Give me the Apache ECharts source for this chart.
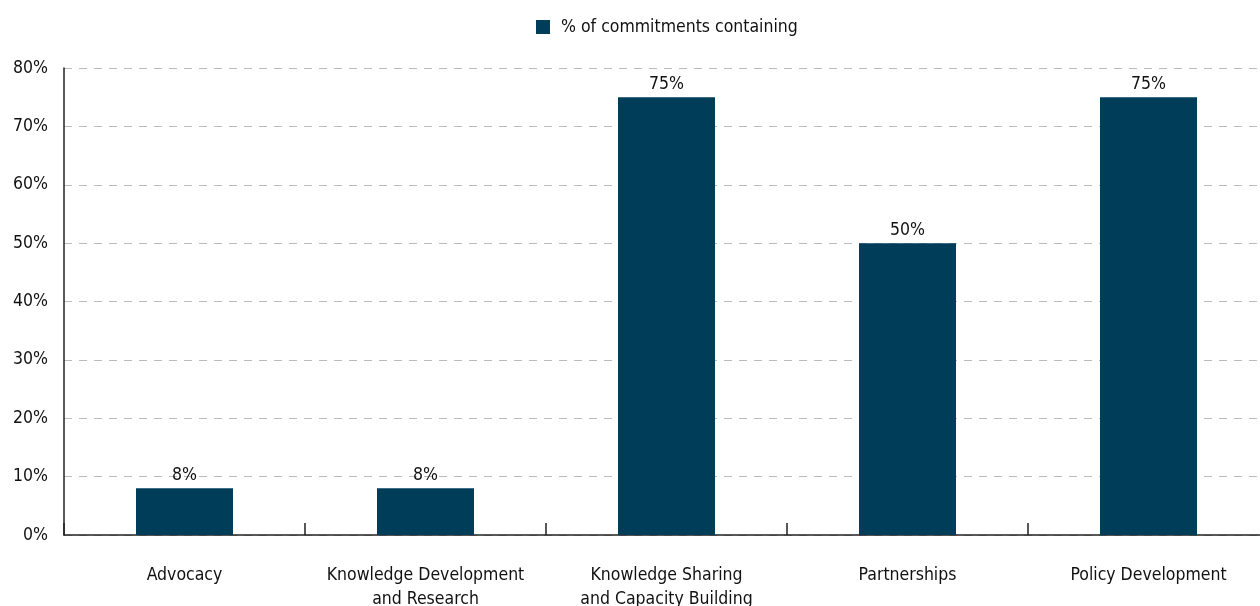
<!DOCTYPE html>
<html><head><meta charset="utf-8">
<script src="https://cdn.jsdelivr.net/npm/echarts@6/dist/echarts.min.js"></script>
<style>html,body{margin:0;padding:0;background:#fff;overflow:hidden}#c{width:1260px;height:606px}</style>
</head><body><div id="c"></div>
<script>
const categories = ['Advocacy', 'Knowledge Development\nand Research', 'Knowledge Sharing\nand Capacity Building', 'Partnerships', 'Policy Development'];
const values = [8, 8, 75, 50, 75];
const seriesName = '% of commitments containing';
const FONT = '"DejaVu Sans Condensed", "Liberation Sans Narrow", sans-serif';
const chart = echarts.init(document.getElementById('c'));
chart.setOption({
  animation: false,
  textStyle: {fontFamily: FONT},
  legend: {
    top: 13, left: 531, itemWidth: 14, itemHeight: 14, itemGap: 12,
    icon: 'rect',
    textStyle: {fontFamily: FONT, fontSize: 17.5, color: '#111', padding: [0, 0, 0, 6]},
    data: [seriesName]
  },
  grid: {left: 64, top: 68, width: 1205, height: 467, containLabel: false, outerBoundsMode: 'none'},
  xAxis: {
    type: 'category', data: categories,
    axisLine: {lineStyle: {color: '#222', width: 1.5}},
    axisTick: {show: true, inside: true, length: 12, interval: 0, lineStyle: {color: '#222', width: 1.5}},
    axisLabel: {interval: 0, fontFamily: FONT, fontSize: 17.5, color: '#111', margin: 28, lineHeight: 24}
  },
  yAxis: {
    type: 'value', min: 0, max: 80, interval: 10,
    axisLine: {show: true, lineStyle: {color: '#222', width: 1.5}},
    axisTick: {show: false},
    axisLabel: {formatter: '{value}%', fontFamily: FONT, fontSize: 17.5, color: '#111', margin: 16},
    splitLine: {lineStyle: {color: '#bbb', type: [8, 7], width: 1}}
  },
  series: [{
    name: seriesName, type: 'bar', data: values, barWidth: 97,
    itemStyle: {color: '#003d58'},
    label: {show: true, position: 'top', distance: 4, formatter: '{c}%', fontFamily: FONT, fontSize: 17.5, color: '#111'}
  }]
});
</script></body></html>
